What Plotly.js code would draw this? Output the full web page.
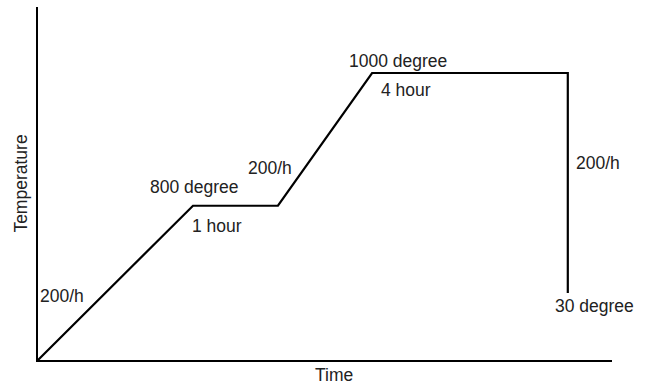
<!DOCTYPE html>
<html>
<head>
<meta charset="utf-8">
<script src="https://cdn.plot.ly/plotly-3.0.1.min.js"></script>
<style>html,body{margin:0;padding:0;background:#fff;}#chart{width:647px;height:385px;}</style>
</head>
<body>
<div id="chart"></div>
<script>
// Schematic firing profile (arbitrary time units, schematic temperature units)
const timePoints = [0, 2.70, 4.18, 5.82, 9.23, 9.23];
const tempPoints = [0, 437, 437, 813, 813, 190];

const labelTexts = ["200/h", "800 degree", "1 hour", "200/h", "1000 degree", "4 hour", "200/h", "30 degree"];
const labelX = [0.42, 2.73, 3.12, 4.04, 6.27, 6.41, 9.75, 9.70];
const labelY = [180, 490, 380, 545, 846, 764, 558, 154];

const xTitle = "Time";
const yTitle = "Temperature";

const XMAX = 10, YMAX = 1000;

const font = {family: "Liberation Sans, Arial, sans-serif", size: 17.5, color: "#222"};
const annotations = labelTexts.map((t, i) => ({
  text: t, x: labelX[i], y: labelY[i], xref: "x", yref: "y",
  showarrow: false, font: font, xanchor: "center", yanchor: "middle"
}));
annotations.push({
  text: xTitle, x: 0.515, y: 0, xref: "paper", yref: "paper",
  showarrow: false, font: font, xanchor: "center", yanchor: "top", yshift: -3
});

const trace = {
  x: timePoints, y: tempPoints, type: "scatter", mode: "lines",
  line: {color: "#000", width: 2.2}, hoverinfo: "none"
};

const layout = {
  width: 647, height: 385,
  margin: {l: 38, r: 35, t: 7, b: 25},
  paper_bgcolor: "#fff", plot_bgcolor: "#fff",
  showlegend: false,
  xaxis: {
    range: [0, XMAX], showline: true, linecolor: "#000", linewidth: 2.2,
    showgrid: false, zeroline: false, showticklabels: false, ticks: ""
  },
  yaxis: {
    range: [0, YMAX], showline: true, linecolor: "#000", linewidth: 2.2,
    showgrid: false, zeroline: false, showticklabels: false, ticks: "",
    title: {text: yTitle, font: font, standoff: 4}
  },
  annotations: annotations
};

Plotly.newPlot("chart", [trace], layout, {displayModeBar: false, staticPlot: true});
</script>
</body>
</html>
